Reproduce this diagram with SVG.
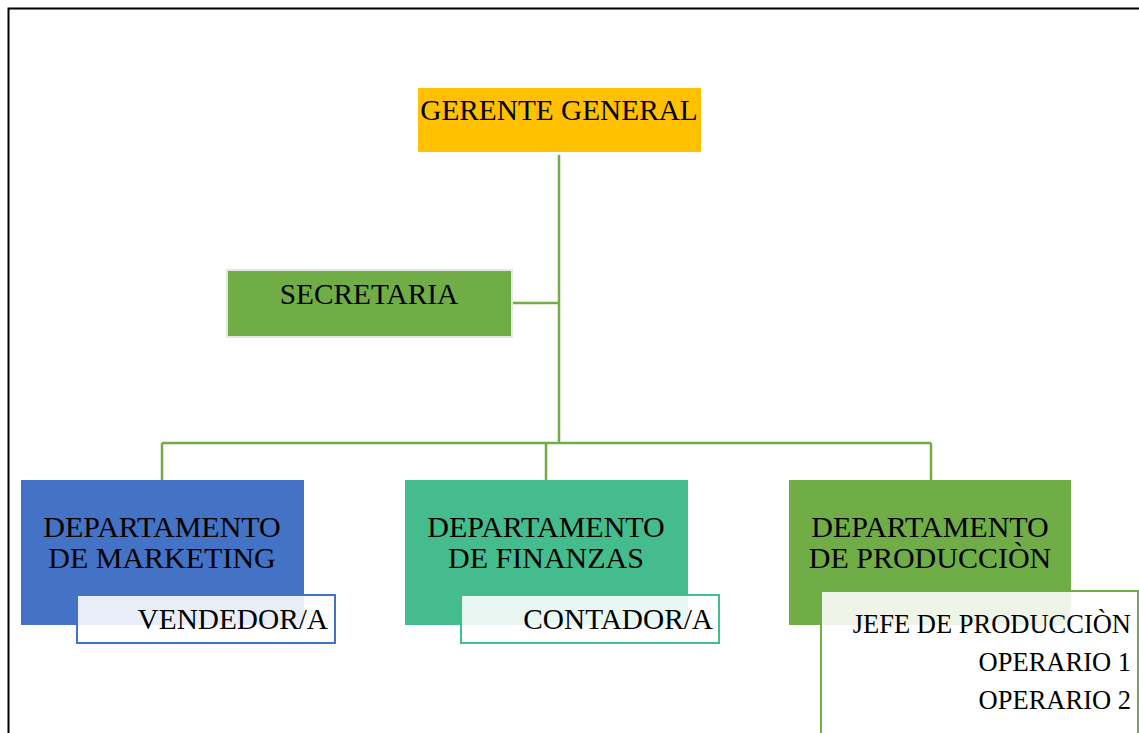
<svg xmlns="http://www.w3.org/2000/svg" width="1139" height="733" viewBox="0 0 1139 733">
<style>
text{font-family:"Liberation Serif","Times New Roman",serif;fill:#000}
.t{font-size:29.3px}
.d{font-size:30px}
.s{font-size:26.5px}
.c{text-anchor:middle}
.r{text-anchor:end}
.ln{stroke:#70AD47;stroke-width:2.5;fill:none}
</style>
<rect x="0" y="0" width="1139" height="733" fill="#fff"/>
<rect x="8.5" y="8.5" width="1140" height="740" fill="none" stroke="#000" stroke-width="2"/>
<g id="connectors">
<path class="ln" d="M559 155V443M513 303H559M162 443H931M162 443V480M546 443V480M931 443V480"/>
</g>
<g id="gerente">
<rect x="418" y="88" width="283" height="64" fill="#FFC000"/>
<text class="t c" x="559" y="120">GERENTE GENERAL</text>
</g>
<g id="secretaria">
<rect x="227" y="270" width="285" height="67" fill="#70AD47" stroke="#E6E6E6" stroke-width="2"/>
<text class="t c" x="369" y="304">SECRETARIA</text>
</g>
<g id="marketing">
<rect x="21" y="480" width="283" height="145" fill="#4472C4"/>
<text class="d c" x="162" y="537">DEPARTAMENTO</text>
<text class="d c" x="162" y="568">DE MARKETING</text>
</g>
<g id="vendedor">
<rect x="77" y="595" width="258" height="48" fill="#fff" fill-opacity="0.88" stroke="#4472C4" stroke-width="2"/>
<text class="t r" x="328" y="629">VENDEDOR/A</text>
</g>
<g id="finanzas">
<rect x="405" y="480" width="283" height="145" fill="#45BC8D"/>
<text class="d c" x="546" y="537">DEPARTAMENTO</text>
<text class="d c" x="546" y="568">DE FINANZAS</text>
</g>
<g id="contador">
<rect x="461" y="595" width="258" height="48" fill="#fff" fill-opacity="0.88" stroke="#45BC8D" stroke-width="2"/>
<text class="t r" x="713" y="629">CONTADOR/A</text>
</g>
<g id="produccion">
<rect x="789" y="480" width="282" height="145" fill="#70AD47"/>
<text class="d c" x="930" y="537">DEPARTAMENTO</text>
<text class="d c" x="930" y="568">DE PRODUCCIÒN</text>
</g>
<g id="jefe">
<rect x="821" y="591" width="317" height="160" fill="#fff" fill-opacity="0.88" stroke="#70AD47" stroke-width="2"/>
<text class="s r" x="1131" y="633">JEFE DE PRODUCCIÒN</text>
<text class="s r" x="1131" y="671">OPERARIO 1</text>
<text class="s r" x="1131" y="709">OPERARIO 2</text>
</g>
</svg>
